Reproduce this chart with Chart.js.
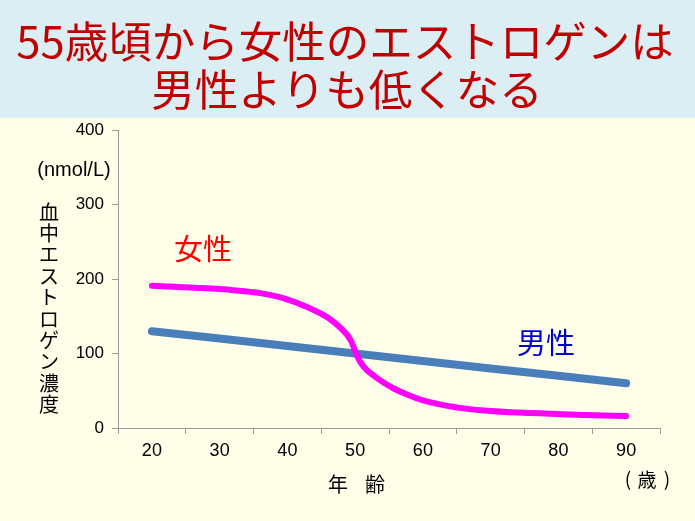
<!DOCTYPE html>
<html>
<head>
<meta charset="utf-8">
<script src="https://cdn.jsdelivr.net/npm/chart.js@4"></script>
<style>
  html, body { margin: 0; padding: 0; background: #fefee9; }
  #wrap { position: relative; width: 695px; height: 521px; }
</style>
</head>
<body>
<div id="wrap"><canvas id="ch"></canvas></div>
<script>
// ---- data ----
const ageTicks   = [20, 30, 40, 50, 60, 70, 80, 90];
const yTicks     = [0, 100, 200, 300, 400];
const maleAge    = [20, 30, 40, 50, 60, 70, 80, 90];
const maleVal    = [130, 120, 110, 100, 90, 80, 70, 60];
const femaleAge  = [20, 27, 32, 36, 39.5, 43, 46, 48, 49.4, 50.1, 50.8, 51.7, 52.8, 54.2, 55.7, 57.5, 60, 64, 69, 76, 84, 90];
const femaleVal  = [191, 188, 185, 181, 174, 162, 148, 133, 117, 101, 88, 78, 70, 61, 53, 45.5, 37, 29, 23.5, 20, 17.5, 16];

const JP = '"Noto Sans CJK JP", sans-serif';
const AR = '"Liberation Sans", Arial, sans-serif';

const decor = {
  id: 'decor',
  beforeDraw(chart) {
    const c = chart.ctx;
    c.save();
    c.fillStyle = '#fefee9';
    c.fillRect(0, 0, chart.width, chart.height);
    c.fillStyle = '#daeef3';
    c.fillRect(0, 0, chart.width, 118);
    c.restore();
  },
  afterDraw(chart) {
    const c = chart.ctx;
    c.save();
    c.textAlign = 'center';
    c.textBaseline = 'middle';
    // title
    c.fillStyle = '#c00000';
    c.font = '43.5px ' + JP;
    c.fillText('55歳頃から女性のエストロゲンは', 345, 41);
    c.fillText('男性よりも低くなる', 347, 89);
    // series labels
    c.font = '29px ' + JP;
    c.fillStyle = '#ff0000';
    c.fillText('女性', 203, 249);
    c.fillStyle = '#0000cc';
    c.fillText('男性', 546, 343);
    // unit + y title
    c.fillStyle = '#000';
    c.font = '20px ' + AR;
    c.fillText('(nmol/L)', 74, 170);
    c.font = '20px ' + JP;
    const yt = '血中エストロゲン濃度';
    for (let i = 0; i < yt.length; i++) c.fillText(yt[i], 49, 212 + i * 21.4);
    // x title
    c.fillText('年', 338, 484);
    c.fillText('齢', 375, 484);
    c.font = '19px ' + JP;
    c.fillText('(', 628, 479);
    c.fillText('歳', 647, 480);
    c.fillText(')', 667, 479);
    c.restore();
  }
};

new Chart(document.getElementById('ch'), {
  type: 'line',
  data: {
    datasets: [
      {
        label: '女性',
        data: femaleAge.map((a, i) => ({ x: a, y: femaleVal[i] })),
        borderColor: '#ff00ff',
        borderWidth: 6,
        pointRadius: 0,
        cubicInterpolationMode: 'monotone',
        borderCapStyle: 'round'
      },
      {
        label: '男性',
        data: maleAge.map((a, i) => ({ x: a, y: maleVal[i] })),
        borderColor: '#4a7ebb',
        borderWidth: 8,
        pointRadius: 0,
        borderCapStyle: 'round'
      }
    ]
  },
  options: {
    responsive: true,
    maintainAspectRatio: false,
    animation: false,
    layout: { padding: { top: 130, right: 35, left: 0, bottom: 0 } },
    plugins: { legend: { display: false }, tooltip: { enabled: false } },
    scales: {
      x: {
        type: 'linear',
        min: 15, max: 95,
        afterBuildTicks: s => { s.ticks = []; for (let v = 15; v <= 95; v += 5) s.ticks.push({ value: v }); },
        afterFit: s => { s.height = 93; },
        ticks: {
          autoSkip: false, maxRotation: 0, color: '#000', padding: 6,
          font: { family: AR, size: 18 },
          callback: v => ageTicks.includes(v) ? String(v) : ''
        },
        grid: {
          drawOnChartArea: false, tickLength: 6,
          color: ctx => (ctx.tick && ctx.tick.value % 10 === 5) ? '#9a9a9a' : 'rgba(0,0,0,0)'
        },
        border: { color: '#9a9a9a', width: 1 }
      },
      y: {
        min: 0, max: 400,
        afterBuildTicks: s => { s.ticks = yTicks.map(v => ({ value: v })); },
        afterFit: s => { s.width = 118; },
        ticks: { color: '#000', padding: 8, font: { family: AR, size: 17 } },
        grid: { drawOnChartArea: false, tickLength: 6, color: '#9a9a9a' },
        border: { color: '#9a9a9a', width: 1 }
      }
    }
  },
  plugins: [decor]
});
</script>
</body>
</html>
